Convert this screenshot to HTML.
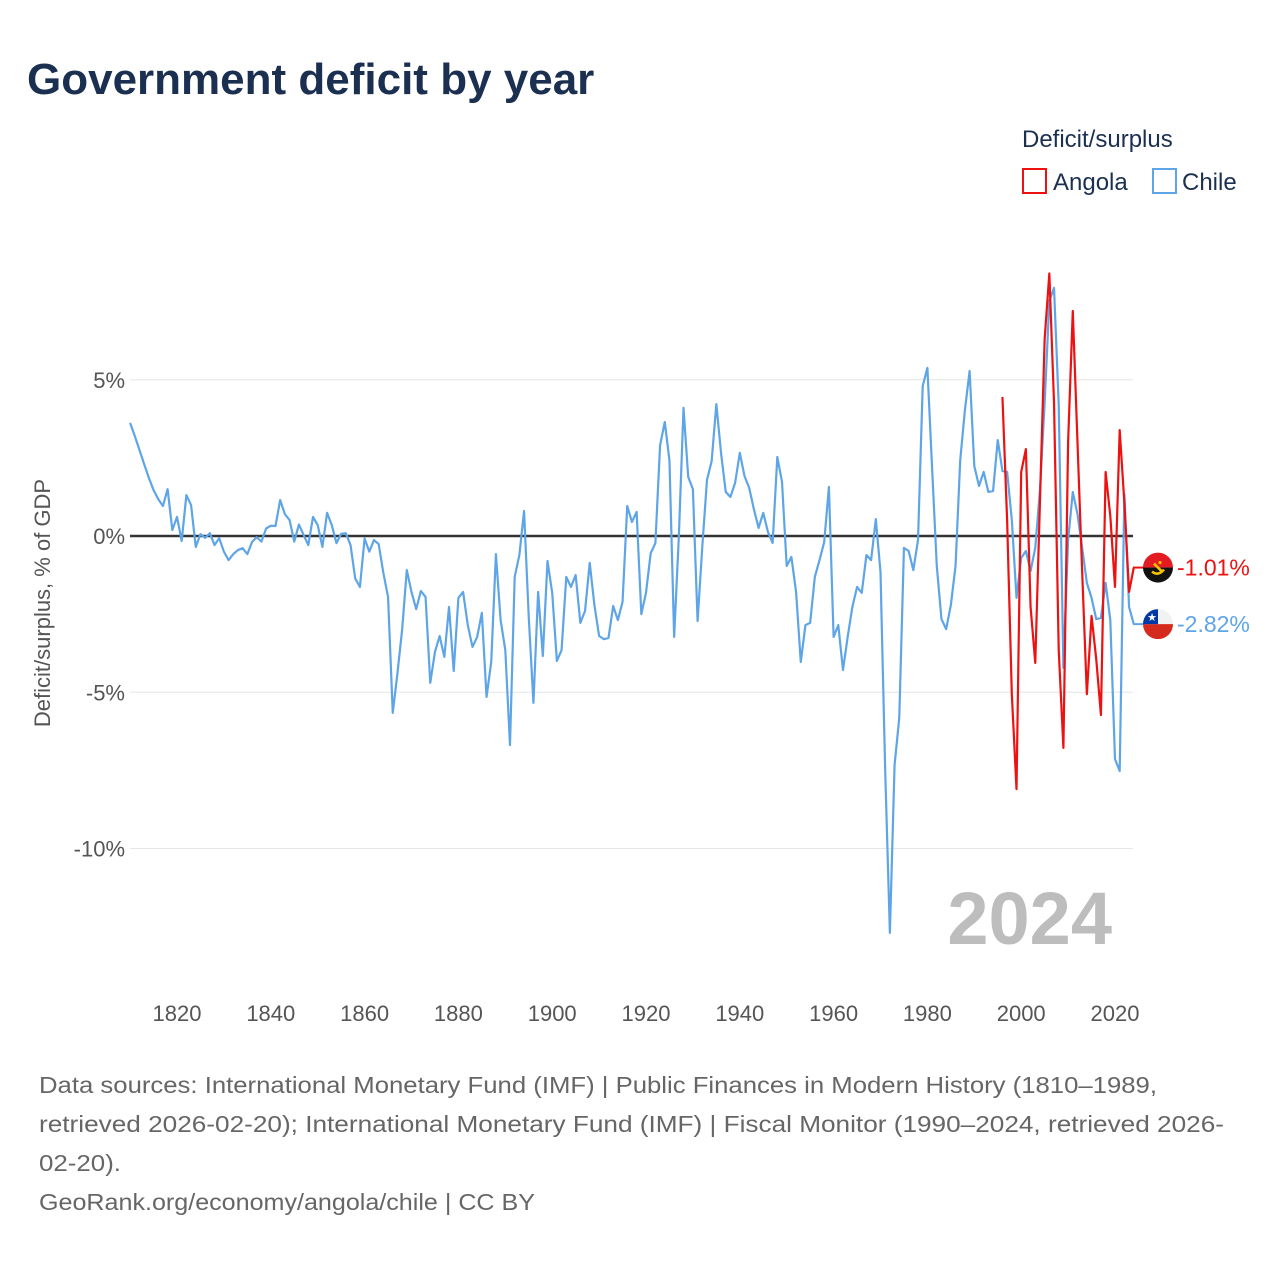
<!DOCTYPE html>
<html><head><meta charset="utf-8">
<style>
html,body{margin:0;padding:0;background:#fff;}
body{width:1280px;height:1280px;position:relative;overflow:hidden;font-family:"Liberation Sans",sans-serif;}
svg{position:absolute;left:0;top:0;}
</style></head>
<body>
<svg id="chart" width="1280" height="1280" viewBox="0 0 1280 1280">
<text x="27" y="94" font-size="44" font-weight="bold" fill="#1b3050">Government deficit by year</text>
<text x="1022" y="147" font-size="24" fill="#1b3050">Deficit/surplus</text>
<g>
<rect x="1023" y="169" width="23" height="24" fill="none" stroke="#ee1111" stroke-width="2"/>
<text x="1053" y="190" font-size="24" fill="#1b3050">Angola</text>
</g>
<g>
<rect x="1153" y="169" width="23" height="24" fill="none" stroke="#5ea5e8" stroke-width="2"/>
<text x="1182" y="190" font-size="24" fill="#1b3050">Chile</text>
</g>
<text transform="translate(50,603) rotate(-90)" text-anchor="middle" font-size="22" fill="#555">Deficit/surplus, % of GDP</text>
<g id="grid"></g>
<text x="1112" y="944" text-anchor="end" font-size="74" font-weight="bold" fill="#bdbdbd">2024</text>
<g id="series"></g>
<g id="endlabels"></g>
<g font-size="23" fill="#666">
<text x="39" y="1093" textLength="1118" lengthAdjust="spacingAndGlyphs">Data sources: International Monetary Fund (IMF) | Public Finances in Modern History (1810–1989,</text>
<text x="39" y="1132" textLength="1185" lengthAdjust="spacingAndGlyphs">retrieved 2026-02-20); International Monetary Fund (IMF) | Fiscal Monitor (1990–2024, retrieved 2026-</text>
<text x="39" y="1171" textLength="82" lengthAdjust="spacingAndGlyphs">02-20).</text>
<text x="39" y="1210" textLength="496" lengthAdjust="spacingAndGlyphs">GeoRank.org/economy/angola/chile | CC BY</text>
</g>
</svg>
<script>
const chileStart = 1810;
const chileValues = [3.62,3.2,2.75,2.3,1.86,1.47,1.18,0.96,1.5,0.19,0.61,-0.16,1.31,0.99,-0.35,0.06,-0.06,0.09,-0.29,-0.07,
-0.5,-0.77,-0.58,-0.45,-0.39,-0.58,-0.19,-0.04,-0.18,0.24,0.33,0.32,1.15,0.7,0.51,-0.18,0.37,0.03,-0.29,0.61,
0.35,-0.35,0.74,0.35,-0.23,0.07,0.09,-0.29,-1.36,-1.63,-0.08,-0.5,-0.13,-0.26,-1.18,-1.95,-5.66,-4.4,-3.0,-1.09,
-1.79,-2.34,-1.76,-1.95,-4.7,-3.71,-3.2,-3.87,-2.27,-4.32,-1.98,-1.79,-2.85,-3.55,-3.23,-2.46,-5.15,-4.03,-0.58,-2.69,
-3.65,-6.69,-1.31,-0.61,0.8,-2.59,-5.34,-1.79,-3.84,-0.8,-1.82,-4.0,-3.65,-1.31,-1.63,-1.25,-2.78,-2.4,-0.86,-2.21,
-3.2,-3.3,-3.26,-2.24,-2.69,-2.11,0.96,0.45,0.77,-2.5,-1.82,-0.55,-0.23,2.9,3.65,2.42,-3.23,-0.03,4.1,1.89,
1.5,-2.72,-0.35,1.79,2.4,4.22,2.66,1.41,1.25,1.7,2.66,1.92,1.54,0.86,0.26,0.74,0.13,-0.22,2.53,1.73,
-0.96,-0.67,-1.79,-4.03,-2.85,-2.78,-1.31,-0.77,-0.19,1.57,-3.23,-2.85,-4.29,-3.23,-2.27,-1.63,-1.82,-0.61,-0.77,0.54,
-1.15,-7.5,-12.7,-7.33,-5.82,-0.38,-0.48,-1.09,-0.13,4.8,5.38,2.18,-0.96,-2.66,-2.98,-2.21,-0.96,2.43,4.03,5.28,
2.24,1.6,2.05,1.41,1.44,3.07,2.08,2.05,0.51,-1.98,-0.7,-0.48,-1.12,-0.38,1.47,4.26,7.52,7.94,4.19,-4.22,
-0.13,1.41,0.7,-0.38,-1.5,-1.98,-2.66,-2.62,-1.5,-2.69,-7.14,-7.52,1.34,-2.27,-2.82];
const angolaStart = 1996;
const angolaValues = [4.45,0.5,-5.06,-8.1,2.05,2.78,-2.27,-4.06,1.1,6.3,8.4,4.26,-3.65,-6.78,3.0,7.2,3.0,-1.15,-5.06,-2.56,
-3.94,-5.73,2.05,0.64,-1.63,3.39,1.06,-1.79,-1.01];
const yTicks = [5,0,-5,-10];
const yTickLabels = ["5%","0%","-5%","-10%"];
const xTicks = [1820,1840,1860,1880,1900,1920,1940,1960,1980,2000,2020];

const NS="http://www.w3.org/2000/svg";
function X(year){return 177+(year-1820)*(1115-177)/200;}
function Y(v){return 536-v*31.25;}
function mk(tag,attrs,parent){const e=document.createElementNS(NS,tag);for(const k in attrs)e.setAttribute(k,attrs[k]);parent.appendChild(e);return e;}
const grid=document.getElementById('grid');
yTicks.forEach((t,i)=>{
  const ln=mk('line',{x1:130,x2:1133,y1:Y(t),y2:Y(t),stroke:t===0?'#333':'#e6e6e6','stroke-width':t===0?2.5:1},grid);
  
  
  const tx=mk('text',{x:125,y:Y(t)+8,'text-anchor':'end','font-size':22,fill:'#555'},grid);
  tx.textContent=yTickLabels[i];
  
  
});
xTicks.forEach(t=>{
  const tx=mk('text',{x:X(t),y:1021,'text-anchor':'middle','font-size':22,fill:'#555'},grid);
  tx.textContent=t;
  
  
});
const series=document.getElementById('series');
function line(vals,start,color,name){
  const pts=vals.map((v,i)=>X(start+i).toFixed(2)+','+Y(v).toFixed(2)).join(' ');
  const pl=mk('polyline',{points:pts,fill:'none',stroke:color,'stroke-width':2.2,'stroke-linejoin':'round'},series);
  
  
}
line(chileValues,chileStart,'#5ea5e8','chile-line');
line(angolaValues,angolaStart,'#ee1111','angola-line');

const el=document.getElementById('endlabels');
const aLast=angolaValues[angolaValues.length-1], cLast=chileValues[chileValues.length-1];
const aY=Y(aLast), cY=Y(cLast);
let c=mk('line',{x1:1133,x2:1145,y1:aY,y2:aY,stroke:'#ee1111','stroke-width':2},el);


c=mk('line',{x1:1133,x2:1145,y1:cY,y2:cY,stroke:'#5ea5e8','stroke-width':2},el);


const fa=mk('g',{},el);


mk('defs',{},fa).innerHTML='<clipPath id="ca"><circle cx="1158" cy="'+aY+'" r="15"/></clipPath><clipPath id="cc"><circle cx="1158" cy="'+cY+'" r="15"/></clipPath>';
mk('rect',{x:1143,y:aY-15,width:30,height:15,fill:'#e31b23','clip-path':'url(#ca)'},fa);
mk('rect',{x:1143,y:aY,width:30,height:15,fill:'#111','clip-path':'url(#ca)'},fa);
mk('path',{d:`M1152 ${aY+4} q6 5 12 -2`,stroke:'#f5c400','stroke-width':2.5,fill:'none'},fa);
mk('path',{d:`M1154 ${aY-4} l8 8`,stroke:'#f5c400','stroke-width':2.5,fill:'none'},fa);
mk('circle',{cx:1160,cy:aY-5,r:1.6,fill:'#f5c400'},fa);
const fc=mk('g',{},el);


mk('rect',{x:1143,y:cY-15,width:30,height:15,fill:'#f2f2f2','clip-path':'url(#cc)'},fc);
mk('rect',{x:1143,y:cY,width:30,height:15,fill:'#d52b1e','clip-path':'url(#cc)'},fc);
mk('rect',{x:1143,y:cY-15,width:15,height:15,fill:'#0039a6','clip-path':'url(#cc)'},fc);
const st=mk('text',{x:1152,y:cY-3,'text-anchor':'middle','font-size':11,fill:'#fff'},fc);st.textContent='★';
let t=mk('text',{x:1177,y:aY+8,'font-size':23,fill:'#ee1111'},el);
t.textContent=aLast.toFixed(2)+'%';


t=mk('text',{x:1177,y:cY+8,'font-size':23,fill:'#5ea5e8'},el);
t.textContent=cLast.toFixed(2)+'%';


</script>
</body></html>
